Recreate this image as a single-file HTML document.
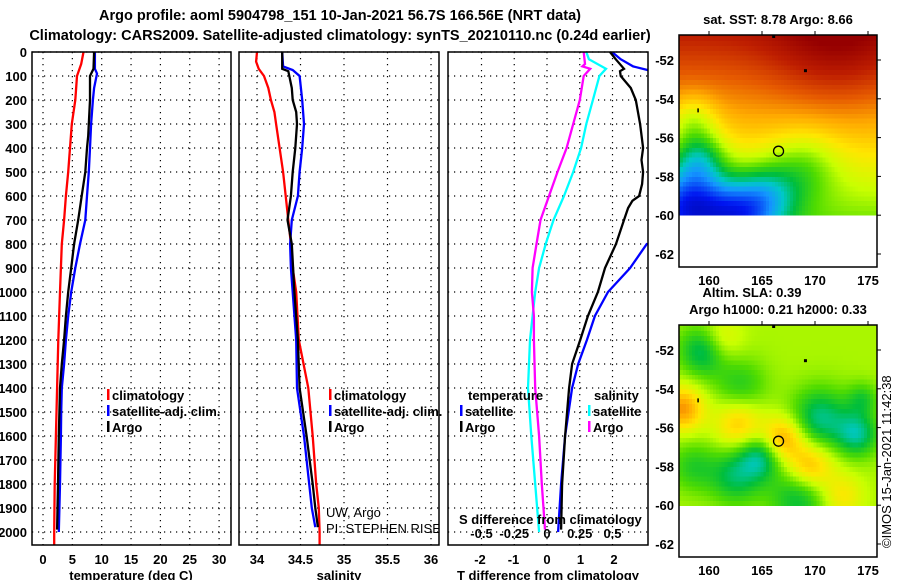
<!DOCTYPE html>
<html><head><meta charset="utf-8">
<style>
body{margin:0;background:#fff;}
svg{display:block;font-family:"Liberation Sans",Arial,sans-serif;}
.b{font-weight:bold;font-size:13px;fill:#000;}
.t{font-weight:bold;font-size:14.5px;fill:#000;}
.r{font-size:13px;fill:#000;}
</style></head>
<body>
<svg id="fig" width="900" height="580" viewBox="0 0 900 580" xmlns="http://www.w3.org/2000/svg">
<defs>
<clipPath id="c1"><rect x="32" y="52" width="199" height="493"/></clipPath>
<clipPath id="c2"><rect x="239" y="52" width="200" height="493"/></clipPath>
<clipPath id="c3"><rect x="448" y="52" width="200" height="493"/></clipPath>
</defs>
<text class="t" x="340" y="20" text-anchor="middle">Argo profile: aoml 5904798_151 10-Jan-2021 56.7S 166.56E (NRT data)</text>
<text class="t" x="340" y="40" text-anchor="middle">Climatology: CARS2009. Satellite-adjusted climatology: synTS_20210110.nc (0.24d earlier)</text>
<g id="g"></g>
</svg>
<script>
// ---------- profile data ----------
const tClimDepth=[0,50,100,200,300,400,500,600,700,800,1000,1200,1400,1600,1800,2000,2060];
const tClimVal=[6.9,6.5,5.8,5.5,4.9,4.6,4.3,3.9,3.6,3.2,2.9,2.6,2.4,2.2,2.0,1.9,1.9];
const tArgoDepth=[0,70,100,200,300,350,400,500,600,700,800,900,1000,1100,1200,1300,1400,1600,1800,1990];
const tArgoVal=[8.7,8.6,8.0,8.0,7.8,7.7,7.5,7.2,6.6,6.0,5.3,4.8,4.3,3.9,3.6,3.2,2.9,2.7,2.55,2.4];
const tSatDepth=[0,70,90,150,200,300,400,500,600,700,800,900,1000,1100,1200,1300,1400,1500,1600,1800,2000];
const tSatVal=[8.85,8.85,9.2,8.7,8.5,8.2,8.0,7.8,7.5,7.2,6.3,5.5,4.8,4.3,3.9,3.6,3.2,3.1,3.05,2.9,2.7];
const sClimDepth=[0,40,70,100,150,200,250,300,400,500,600,700,800,900,1000,1200,1400,1600,1800,1900,2000,2060];
const sClimVal=[34.0,33.99,34.02,34.08,34.13,34.16,34.2,34.22,34.26,34.3,34.33,34.36,34.39,34.41,34.45,34.48,34.59,34.64,34.68,34.71,34.72,34.72];
const sArgoDepth=[0,70,80,150,200,250,300,400,500,600,700,800,1000,1200,1400,1600,1800,1900,1980];
const sArgoVal=[34.29,34.29,34.36,34.4,34.41,34.45,34.46,34.44,34.41,34.39,34.35,34.4,34.43,34.47,34.49,34.57,34.64,34.67,34.7];
const sSatDepth=[0,60,75,100,200,300,400,500,600,700,800,900,1000,1200,1400,1600,1800,1900,1980];
const sSatVal=[34.29,34.3,34.41,34.49,34.52,34.54,34.52,34.49,34.47,34.4,34.38,34.39,34.41,34.45,34.46,34.54,34.6,34.63,34.67];
const dTSatDepth=[0,30,60,75,100,790,800,900,1000,1100,1200,1300,1400,1600,1800,2000];
const dTSatVal=[1.94,2.2,2.57,3.0,3.6,3.6,2.98,2.48,1.82,1.43,1.19,0.93,0.75,0.54,0.42,0.33];
const dTArgoDepth=[0,30,70,80,100,150,200,300,400,450,500,550,600,620,650,700,800,900,1000,1100,1200,1300,1400,1500,1600,1800,1990];
const dTArgoVal=[1.88,2.05,2.3,2.18,2.2,2.5,2.65,2.78,2.87,2.82,2.87,2.84,2.75,2.55,2.42,2.3,2.06,1.73,1.52,1.22,0.99,0.75,0.66,0.6,0.54,0.45,0.42];
const dSSatDepth=[0,30,70,100,200,300,400,500,600,700,800,900,1000,1100,1200,1400,1600,1800,2000];
const dSSatVal=[0.30,0.32,0.45,0.40,0.35,0.30,0.26,0.20,0.13,0.05,-0.01,-0.06,-0.09,-0.11,-0.13,-0.145,-0.12,-0.09,-0.06];
const dSArgoDepth=[0,50,60,70,100,200,300,400,500,600,700,800,900,1000,1100,1200,1400,1600,1800,1990];
const dSArgoVal=[0.28,0.29,0.27,0.33,0.28,0.25,0.20,0.15,0.08,0.015,-0.05,-0.08,-0.11,-0.115,-0.1,-0.1,-0.09,-0.06,-0.04,-0.015];
const depthTicks=[0,100,200,300,400,500,600,700,800,900,1000,1100,1200,1300,1400,1500,1600,1700,1800,1900,2000];
const tempTicks=[0,5,10,15,20,25,30];
const salTicks=[34,34.5,35,35.5,36];
const salTickLabels=["34","34.5","35","35.5","36"];
const dTTicks=[-2,-1,0,1,2];
const dSTicks=[-0.5,-0.25,0,0.25,0.5];
const dSTickLabels=["-0.5","-0.25","0","0.25","0.5"];
// ---------- map data (blob fields) ----------
const latTicks=[-52,-54,-56,-58,-60,-62];
const lonTicks=[160,165,170,175];
const sstBlobLon=[158,162.5,172,169,158.5,165.5,159];
const sstBlobLat=[-59.5,-60,-51,-57.5,-55,-59,-57];
const sstBlobAmp=[-0.4,-0.3,0.1,-0.12,-0.12,-0.2,-0.22];
const sstBlobSig=[1.4,1.3,2.5,1.3,0.9,1.2,1.0];
const slaBlobLon=[159.5,170.5,174,164.8,162.5,168.5,163,158.5,157.5,162.8,167,169.5,161,172.5,174.5];
const slaBlobLat=[-52,-55.5,-56.3,-57.5,-58.5,-59.5,-53.8,-58,-55,-55.8,-56.5,-58,-51.5,-59.5,-54.5];
const slaBlobAmp=[-0.18,-0.18,-0.18,-0.17,-0.15,-0.15,-0.1,-0.1,0.2,0.14,0.18,0.18,0.1,0.1,-0.1];
const slaBlobSig=[0.9,1.1,0.8,0.8,1.0,1.1,1.0,0.9,0.8,0.9,0.8,0.9,0.8,0.8,0.6];

const NS="http://www.w3.org/2000/svg";
const G=document.getElementById('g');
function mk(tag,attrs,parent){const e=document.createElementNS(NS,tag);for(const k in attrs)e.setAttribute(k,attrs[k]);(parent||G).appendChild(e);return e;}
function txt(s,x,y,cls,anchor,parent){const e=mk('text',{x:x,y:y,class:cls,'text-anchor':anchor||'start'},parent);e.textContent=s;return e;}

const Y=d=>52+0.24*d;
const panels=[
 {x0:32,x1:231,clip:'c1',sx:v=>43+5.87*v,name:'temperature'},
 {x0:239,x1:439,clip:'c2',sx:v=>257+87*(v-34),name:'salinity'},
 {x0:448,x1:648,clip:'c3',sx:v=>547+33.5*v,name:'difference'}];
const sS=v=>547+131*v;

function grid(p,xs){
  const gg=mk('g',{stroke:'#000','stroke-width':1.2,'stroke-dasharray':'1.2,4.8'});
  
  
  depthTicks.forEach(d=>mk('line',{x1:p.x0,x2:p.x1,y1:Y(d),y2:Y(d)},gg));
  xs.forEach(x=>mk('line',{x1:x,x2:x,y1:52,y2:545},gg));
}
grid(panels[0],tempTicks.map(panels[0].sx));
grid(panels[1],salTicks.map(panels[1].sx));
grid(panels[2],dSTicks.map(sS));

function line(depths,vals,sx,color,clip,name){
  const pts=depths.map((d,i)=>sx(vals[i]).toFixed(1)+','+Y(d).toFixed(1)).join(' ');
  const e=mk('polyline',{points:pts,fill:'none',stroke:color,'stroke-width':2.3,'clip-path':'url(#'+clip+')','stroke-linejoin':'miter'});
  
  
}
line(tClimDepth,tClimVal,panels[0].sx,'#ff0000','c1','temp-climatology-line');
line(tSatDepth,tSatVal,panels[0].sx,'#0000ff','c1','temp-satellite-line');
line(tArgoDepth,tArgoVal,panels[0].sx,'#000000','c1','temp-argo-line');
line(sClimDepth,sClimVal,panels[1].sx,'#ff0000','c2','sal-climatology-line');
line(sSatDepth,sSatVal,panels[1].sx,'#0000ff','c2','sal-satellite-line');
line(sArgoDepth,sArgoVal,panels[1].sx,'#000000','c2','sal-argo-line');
line(dSSatDepth,dSSatVal,sS,'#00ffff','c3','sdiff-satellite-line');
line(dSArgoDepth,dSArgoVal,sS,'#ff00ff','c3','sdiff-argo-line');
line(dTSatDepth,dTSatVal,panels[2].sx,'#0000ff','c3','tdiff-satellite-line');
line(dTArgoDepth,dTArgoVal,panels[2].sx,'#000000','c3','tdiff-argo-line');

panels.forEach(p=>{const r=mk('rect',{x:p.x0,y:52,width:p.x1-p.x0,height:493,fill:'none',stroke:'#000','stroke-width':1.5});
 
 });

depthTicks.forEach(d=>{const t=txt(String(d),27,Y(d)+5,'b','end');
 
 });
tempTicks.forEach(v=>{const t=txt(String(v),panels[0].sx(v),564,'b','middle');
 
 });
salTicks.forEach((v,i)=>{const t=txt(salTickLabels[i],panels[1].sx(v),564,'b','middle');
 
 });
dTTicks.forEach(v=>{const t=txt(String(v),panels[2].sx(v),564,'b','middle');
 
 });
dSTicks.forEach((v,i)=>{const t=txt(dSTickLabels[i],sS(v),538,'b','middle');
 
 });
[['temperature (deg C)',131],['salinity',339],['T difference from climatology',548]].forEach(a=>{
 const t=txt(a[0],a[1],580,'b','middle');
 
 });
{const t=txt('S difference from climatology',459,524,'b','start');
 
 }

function leg(x,y,color,label,name){
  const r=mk('rect',{x:x,y:y-11,width:2.5,height:11,fill:color});
  
  
  const t=txt(label,x+5,y,'b','start');
  
  
}
[107,329].forEach((x,i)=>{
  leg(x,400,'#ff0000','climatology','legend-climatology-'+(i+1));
  leg(x,416,'#0000ff','satellite-adj. clim.','legend-satellite-'+(i+1));
  leg(x,432,'#000000','Argo','legend-argo-'+(i+1));
});
{const t=txt('temperature',468,400,'b','start');}
{const t=txt('salinity',594,400,'b','start');}
leg(460,416,'#0000ff','satellite','legend-tdiff-satellite');
leg(460,432,'#000000','Argo','legend-tdiff-argo');
leg(588,416,'#00ffff','satellite','legend-sdiff-satellite');
leg(588,432,'#ff00ff','Argo','legend-sdiff-argo');
{const t=txt('UW, Argo',326,517,'r','start');
 const t2=txt('PI: STEPHEN RISER',326,533,'r','start');t2.setAttribute('clip-path','url(#c2)');}

// ---------- maps ----------
const cmapStops=[[0,[0,0,128]],[0.15,[0,20,240]],[0.28,[20,150,255]],[0.36,[0,200,200]],[0.44,[0,190,60]],[0.52,[80,220,0]],[0.6,[200,255,0]],[0.68,[255,230,0]],[0.76,[255,170,0]],[0.84,[230,90,0]],[0.92,[190,30,0]],[1,[150,0,0]]];
function cmap(v){v=Math.max(0,Math.min(1,v));for(let i=1;i<cmapStops.length;i++){if(v<=cmapStops[i][0]){const a=cmapStops[i-1],b=cmapStops[i];const f=(v-a[0])/(b[0]-a[0]);const c=a[1].map((x,k)=>Math.round(x+(b[1][k]-x)*f));return 'rgb('+c.join(',')+')';}}return 'rgb(150,0,0)';}
const LX=lon=>709+(lon-160)*10.6;
function drawMap(top,name,field,cellLon,cellLat){
  const LY=lat=>top+25+(-52-lat)*19.4;
  const gm=mk('g',{});
  
  
  const cl=mk('clipPath',{id:'cl'+top},gm);mk('rect',{x:679,y:top,width:198,height:232},cl);
  const cells=mk('g',{'clip-path':'url(#cl'+top+')','shape-rendering':'crispEdges'},gm);
  for(let lat=-60;lat<-50.5;lat+=cellLat){for(let lon=157;lon<176;lon+=cellLon){
    const v=field(lon+cellLon/2,lat+cellLat/2);
    const x0=LX(lon),y0=LY(lat+cellLat);
    mk('rect',{x:x0.toFixed(1),y:y0.toFixed(1),width:(cellLon*10.6+0.6).toFixed(1),height:(cellLat*19.4+0.6).toFixed(1),fill:cmap(v)},cells);
  }}
  mk('rect',{x:679,y:top,width:198,height:232,fill:'none',stroke:'#000','stroke-width':1.5},gm);
  latTicks.forEach(l=>{txt(String(l),674,LY(l)+5,'b','end',gm);
    mk('line',{x1:877,x2:881,y1:LY(l),y2:LY(l),stroke:'#000'},gm);});
  lonTicks.forEach(l=>{txt(String(l),LX(l),top+250,'b','middle',gm);
    mk('line',{x1:LX(l),x2:LX(l),y1:top,y2:top-4,stroke:'#000'},gm);});
  const c=mk('circle',{cx:LX(166.56),cy:LY(-56.7),r:5,fill:'none',stroke:'#000','stroke-width':1.3},gm);
  
  
  mk('rect',{x:LX(169.1)-1.5,y:LY(-52.55)-1.5,width:3,height:3,fill:'#000'},gm);
  mk('rect',{x:LX(158.9),y:LY(-54.7)-4,width:1.5,height:4,fill:'#000'},gm);
  mk('rect',{x:LX(166.1)-1.5,y:top,width:3,height:3,fill:'#000'},gm);
}
function blobField(base,lons,lats,amps,sigs,grad){return (lon,lat)=>{let v=base+grad*(lat+55);for(let i=0;i<lons.length;i++){const dx=(lon-lons[i])*0.57,dy=lat-lats[i];v+=amps[i]*Math.exp(-(dx*dx+dy*dy)/(2*sigs[i]*sigs[i]));}return v;};}
drawMap(35,'sst-map',blobField(0.75,sstBlobLon,sstBlobLat,sstBlobAmp,sstBlobSig,0.04),0.28,0.25);
drawMap(325,'sla-map',blobField(0.58,slaBlobLon,slaBlobLat,slaBlobAmp,slaBlobSig,0),0.28,0.25);
[['sat. SST: 8.78 Argo: 8.66',778,24,'sst-map-title'],['Altim. SLA: 0.39',752,297,'sla-title'],['Argo h1000: 0.21 h2000: 0.33',778,314,'argo-height-title']].forEach(a=>{
  const t=txt(a[0],a[1],a[2],'b','middle');});
{const t=txt('©IMOS 15-Jan-2021 11:42:38',0,0,'r','start');t.setAttribute('transform','translate(891,548) rotate(-90)');
 }
</script>
</body></html>
